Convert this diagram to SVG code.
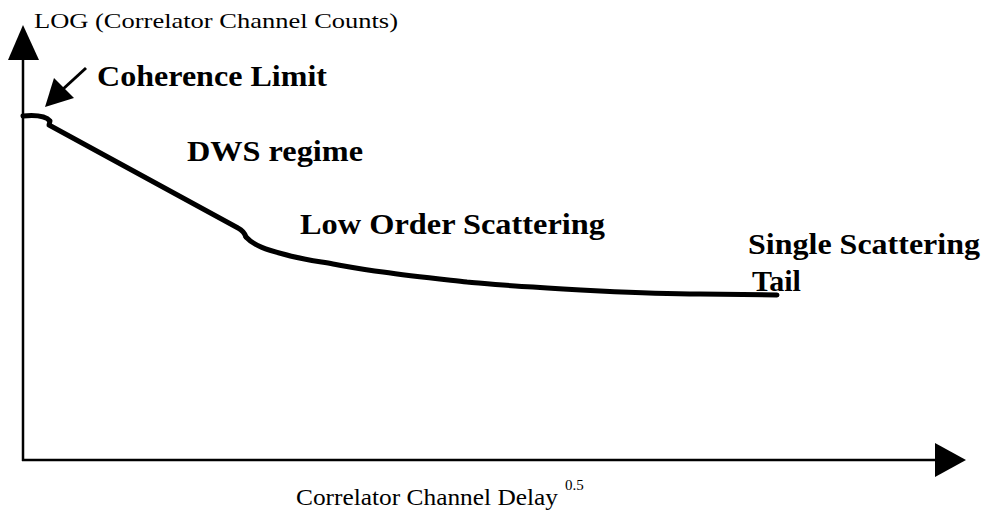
<svg xmlns="http://www.w3.org/2000/svg" width="988" height="515" viewBox="0 0 988 515">
  <style>
    .axis { stroke: #000; stroke-width: 2.5; fill: none; }
    .pointer { stroke: #000; stroke-width: 3; fill: none; }
    .curve { stroke: #000; stroke-width: 5; fill: none; stroke-linejoin: round; stroke-linecap: round; }
    .head { fill: #000; }
    .lbl { font-family: "Liberation Serif", "Times New Roman", serif; fill: #000; }
    .bold { font-weight: bold; font-size: 30px; }
  </style>

  <!-- axes -->
  <g id="axes">
    <line class="axis" x1="23" y1="461" x2="23" y2="55"/>
    <polygon class="head" points="23,25 8,60 39,60"/>
    <line class="axis" x1="22" y1="460" x2="940" y2="460"/>
    <polygon class="head" points="966,460 935,443 935,477"/>
  </g>

  <!-- correlation decay curve -->
  <g id="connectors">
    <path class="curve" d="M23,116 Q44,114 50,121 L49,125 L238,228 Q244,231 246,237"/>
    <path class="curve" d="M246,237 C254,246 268,250 283,254 C300,259 316,261 333,264 C350,267 366,270 383,272 C410,276 440,279 467,282 C490,284 510,286 533,287 C560,289 580,290 600,291 C640,293 670,294 700,294 L777,295"/>
    <!-- pointer to the coherence limit -->
    <line class="pointer" x1="86" y1="68" x2="62" y2="90"/>
    <polygon class="head" points="45,107 54,78 74,98"/>
  </g>

  <g id="y-label">
    <text class="lbl" x="34" y="28" font-size="21" textLength="364" lengthAdjust="spacingAndGlyphs">LOG (Correlator Channel Counts)</text>
  </g>
  <g id="coherence-limit">
    <text class="lbl bold" x="97" y="86" textLength="230" lengthAdjust="spacingAndGlyphs">Coherence Limit</text>
  </g>
  <g id="dws-regime">
    <text class="lbl bold" x="187" y="161" textLength="176" lengthAdjust="spacingAndGlyphs">DWS regime</text>
  </g>
  <g id="low-order">
    <text class="lbl bold" x="300" y="234" textLength="305" lengthAdjust="spacingAndGlyphs">Low Order Scattering</text>
  </g>
  <g id="single-scattering">
    <text class="lbl bold" x="748" y="254" textLength="232" lengthAdjust="spacingAndGlyphs">Single Scattering</text>
    <text class="lbl bold" x="752" y="291">Tail</text>
  </g>
  <g id="x-label">
    <text class="lbl" x="296" y="505" font-size="24" textLength="262" lengthAdjust="spacingAndGlyphs">Correlator Channel Delay</text>
    <text class="lbl" x="565" y="490" font-size="15">0.5</text>
  </g>
</svg>
